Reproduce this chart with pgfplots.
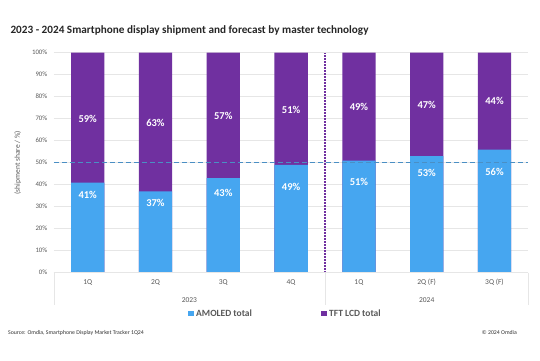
\documentclass[border=0pt]{standalone}
\usepackage{pgfplots}
\pgfplotsset{compat=1.18}
\usepackage{fontspec}
\setmainfont{Carlito}
\definecolor{amoled}{HTML}{46A6F0}
\definecolor{tft}{HTML}{7030A0}
\definecolor{fifty}{HTML}{4A8FC4}
\definecolor{txt}{HTML}{595959}
\definecolor{gridc}{HTML}{E6E6E6}
\begin{document}
\begin{tikzpicture}[x=1pt,y=1pt]
\path[use as bounding box] (0,0) rectangle (540,360);
\fill[white] (0,0) rectangle (540,360);
\begin{axis}[
  at={(53.8pt,87.3pt)}, anchor=south west,
  scale only axis, width=474.6pt, height=220pt,
  xmin=-0.5, xmax=6.5, ymin=0, ymax=100,
  clip=false,
  axis line style={draw=none},
  major tick length=0pt,
  ytick={0,10,...,100},
  yticklabel={\pgfmathprintnumber{\tick}\%},
  /pgf/number format/assume math mode=true,
  yticklabel style={font=\fontsize{6.8}{7}\selectfont, text=txt, xshift=-3pt},
  ymajorgrids, grid style={gridc, line width=0.6pt},
  xtick={0,...,6},
  xticklabels={1Q,2Q,3Q,4Q,1Q,2Q (F),3Q (F)},
  xticklabel style={font=\fontsize{7.5}{8}\selectfont, text=txt, yshift=-3pt},
  ylabel={(shipment share / \%)},
  ylabel style={font=\fontsize{7.5}{8}\selectfont, text=txt, yshift=4pt},
]
\addplot[ybar, bar width=33.3pt, bar shift=0pt, fill=tft, draw=none] coordinates {(0,100) (1,100) (2,100) (3,100) (4,100) (5,100) (6,100)};
\addplot[ybar, bar width=33.3pt, bar shift=0pt, fill=amoled, draw=none] coordinates {(0,41) (1,37) (2,43) (3,49) (4,51) (5,53) (6,56)};
\addplot[fifty, line width=1.4pt, dash pattern=on 5pt off 3pt] coordinates {(-0.5,50) (6.5,50)};
\addplot[tft, line width=1.4pt, dash pattern=on 2pt off 1pt] coordinates {(3.5,0) (3.5,100)};
\addplot[draw=none, mark=none, nodes near coords, point meta=explicit symbolic,
  nodes near coords style={text=white, font=\bfseries\fontsize{10.5}{11}\selectfont, anchor=center}]
  table[meta=label] {
x y label
0 35.3 41\%
1 31.7 37\%
2 36.2 43\%
3 39.0 49\%
4 41.2 51\%
5 45.3 53\%
6 45.8 56\%
0 69.9 59\%
1 68.0 63\%
2 71.2 57\%
3 74.0 51\%
4 75.3 49\%
5 76.2 47\%
6 78.0 44\%
};
\end{axis}
% bottom axis and group separators
\draw[gridc, line width=0.6pt] (53.8,87.3) -- (528.4,87.3);
\draw[gridc, line width=0.6pt] (53.8,87.3) -- (53.8,55);
\draw[gridc, line width=0.6pt] (325,87.3) -- (325,55);
\draw[gridc, line width=0.6pt] (528.4,87.3) -- (528.4,55);
% year labels
\node[font=\fontsize{7.5}{8}\selectfont, text=txt] at (189.4,60) {2023};
\node[font=\fontsize{7.5}{8}\selectfont, text=txt] at (426.7,60) {2024};
% title
\node[anchor=base west, font=\bfseries\fontsize{11.2}{12}\selectfont, text=black!85] at (7,327) {2023 - 2024 Smartphone display shipment and forecast by master technology};
% legend
\fill[amoled] (188,44) rectangle (193.5,49.5);
\node[anchor=west, font=\bfseries\fontsize{9.5}{10}\selectfont, text=txt, inner sep=0pt] at (196,46.8) {AMOLED total};
\fill[tft] (321,44) rectangle (326.5,49.5);
\node[anchor=west, font=\bfseries\fontsize{9.5}{10}\selectfont, text=txt, inner sep=0pt] at (329,46.8) {TFT LCD total};
% footer
\node[anchor=west, font=\fontsize{5.8}{6}\selectfont, text=black!80, inner sep=0pt] at (8,27) {Source: Omdia, Smartphone Display Market Tracker 1Q24};
\node[anchor=east, font=\fontsize{5.8}{6}\selectfont, text=black!80, inner sep=0pt] at (517,27) {© 2024 Omdia};
\end{tikzpicture}
\end{document}
